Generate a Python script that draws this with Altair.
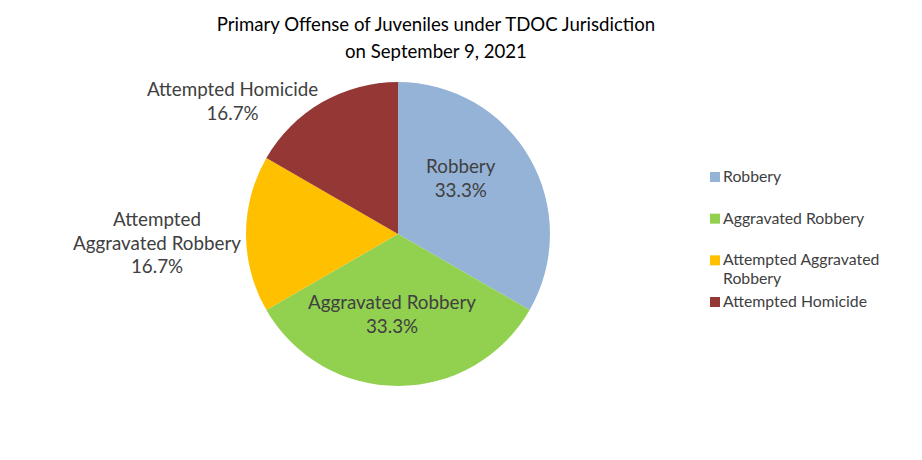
import altair as alt
import pandas as pd

categories = ["Robbery", "Aggravated Robbery", "Attempted Aggravated Robbery", "Attempted Homicide"]
counts = [2, 2, 1, 1]
pie_labels = ["Robbery", "Aggravated Robbery", "Attempted\nAggravated Robbery", "Attempted Homicide"]
legend_labels = ["Robbery", "Aggravated Robbery", "Attempted Aggravated\nRobbery", "Attempted Homicide"]
colors = ["#95B3D7", "#92D050", "#FFC000", "#953735"]
title_lines = ["Primary Offense of Juveniles under TDOC Jurisdiction", "on September 9, 2021"]

df = pd.DataFrame({
    "category": categories,
    "count": counts,
    "plabel": pie_labels,
    "llabel": legend_labels,
    "idx": list(range(len(categories))),
})

FONT = "Lato"
TXT = "#404040"
ORIGIN_Y = 62
CX, CY = 390, 234 - ORIGIN_Y
R = 152

color_scale = alt.Scale(domain=categories, range=colors)
base = alt.Chart(df).transform_joinaggregate(total="sum(count)")

arcs = base.mark_arc(outerRadius=R, stroke=None).encode(
    theta=alt.Theta("count:Q", stack=True),
    order=alt.Order("idx:Q"),
    color=alt.Color("category:N", sort=categories, scale=color_scale, legend=None),
    x=alt.value(CX),
    y=alt.value(CY),
)


def label_layer(cat, r, dx, dy):
    return base.transform_window(
        cum="sum(count)", sort=[alt.SortField("idx")], frame=[None, 0]
    ).transform_calculate(
        mid="datum.cum - datum.count / 2",
        t="datum.plabel + '\\n' + format(datum.count / datum.total, '.1%')",
    ).transform_filter(
        alt.datum.category == cat
    ).mark_text(
        radius=r, dx=dx, dy=dy, font=FONT, fontSize=18.8, color=TXT,
        lineBreak="\n", lineHeight=23.5, align="center", baseline="middle",
    ).encode(
        theta=alt.Theta("mid:Q", stack=None),
        text="t:N",
        x=alt.value(CX),
        y=alt.value(CY),
    )


labels = [
    label_layer("Robbery", 84, -10, -25),
    label_layer("Aggravated Robbery", 80, -6, -11),
    label_layer("Attempted Aggravated Robbery", 241, 0, -14),
    label_layer("Attempted Homicide", 175, -78, 8),
]

# legend drawn from the same data and colour scale
legend_y = alt.Y(
    "category:N",
    sort=categories,
    scale=alt.Scale(domain=categories, range=[177 - ORIGIN_Y, 302 - ORIGIN_Y], padding=0),
    axis=None,
)
legend_sym = alt.Chart(df).mark_square(size=100, opacity=1, strokeWidth=0).encode(
    x=alt.value(707),
    y=legend_y,
    color=alt.Color("category:N", sort=categories, scale=color_scale, legend=None),
)
legend_txt = alt.Chart(df).mark_text(
    font=FONT, fontSize=15.8, color=TXT, align="left", baseline="middle",
    lineBreak="\n", lineHeight=18.5,
).encode(
    x=alt.value(715),
    y=legend_y,
    text="llabel:N",
)

chart = alt.layer(arcs, *labels, legend_sym, legend_txt).properties(
    width=906,
    height=444,
    autosize=alt.AutoSizeParams(type="fit", contains="padding"),
    padding={"top": 8, "left": 0, "right": 0, "bottom": 0},
    title=alt.TitleParams(
        text=title_lines,
        font=FONT,
        fontSize=18.6,
        fontWeight="normal",
        color="#000000",
        lineHeight=27,
        anchor="middle",
        frame="group",
        dx=-25,
        offset=0,
    ),
).configure_view(stroke=None)

chart.save("out.html", embed_options={"renderer": "svg", "actions": False})
